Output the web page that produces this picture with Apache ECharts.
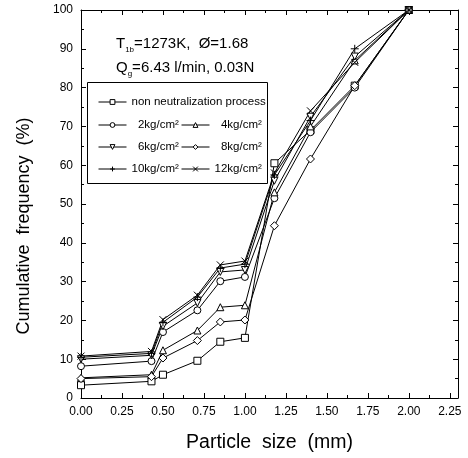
<!DOCTYPE html>
<html><head><meta charset="utf-8">
<script src="https://cdn.jsdelivr.net/npm/echarts@6/dist/echarts.min.js"></script>
<style>html,body{margin:0;padding:0;background:#fff}#c{width:468px;height:458px}</style>
</head><body><div id="c"></div>
<script>
const particleSize = [0, 0.43, 0.5, 0.71, 0.85, 1.0, 1.18, 1.4, 1.67, 2.0];
const nonNeutral = [3.3, 4.3, 6.0, 9.6, 14.5, 15.5, 60.5, 69.0, 80.5, 100];
const p2kg  = [8.2, 9.5, 17.0, 22.6, 30.1, 31.2, 51.5, 68.5, 80.0, 100];
const p4kg  = [5.2, 6.0, 12.3, 17.4, 23.4, 23.9, 53.0, 70.0, 87.0, 100];
const p6kg  = [10.0, 11.0, 18.5, 24.5, 32.5, 33.0, 56.0, 72.5, 88.0, 100];
const p8kg  = [5.0, 5.5, 10.3, 14.8, 19.6, 20.1, 44.4, 61.6, 80.5, 100];
const p10kg = [10.5, 11.5, 19.5, 26.0, 33.5, 34.5, 57.5, 71.5, 90.0, 100];
const p12kg = [10.8, 12.0, 20.2, 26.5, 34.3, 35.3, 58.0, 74.0, 86.5, 100];
const seriesNames = ['non neutralization process', '2kg/cm²', '4kg/cm²', '6kg/cm²', '8kg/cm²', '10kg/cm²', '12kg/cm²'];
const seriesValues = [nonNeutral, p2kg, p4kg, p6kg, p8kg, p10kg, p12kg];
const symbols = ['rect', 'circle', 'triangle', 'triangle', 'diamond',
  'path://M5,0L5,10M0,5L10,5', 'path://M0,0L10,10M0,10L10,0'];
const rotations = [0, 0, 0, 180, 0, 0, 0];
const sizes = [7, 7, 7, 7, 8, 8, 7];

const FONT = '"Liberation Sans", Arial, sans-serif';
const chart = echarts.init(document.getElementById('c'), null, {renderer: 'canvas'});

const series = seriesNames.map((name, i) => ({
  name: name,
  type: 'line',
  data: particleSize.map((x, j) => [x, seriesValues[i][j]]),
  symbol: symbols[i],
  symbolRotate: rotations[i],
  symbolSize: sizes[i],
  lineStyle: {color: '#000', width: 1},
  itemStyle: {color: '#fff', borderColor: '#000', borderWidth: 1},
  emphasis: {disabled: true},
  animation: false,
  xAxisIndex: 0, yAxisIndex: 0
}));

const tickCommon = {show: true, inside: true, length: 5, lineStyle: {color: '#000', width: 1}};
const minorCommon = {show: true, splitNumber: 2, length: 3, lineStyle: {color: '#000', width: 1}};

const legendText = {fontFamily: FONT, fontSize: 11.5, color: '#000'};
const legendFmt = n => (/^\d\D/.test(n) ? '  ' + n : n);
const legendBase = {
  orient: 'vertical', itemWidth: 28, itemHeight: 6, itemGap: 10,
  textStyle: legendText, selectedMode: false, formatter: legendFmt,
  itemStyle: {borderWidth: 1}, lineStyle: {width: 1}
};

chart.setOption({
  backgroundColor: '#fff',
  animation: false,
  grid: {left: 81, right: 10, top: 10, bottom: 58},
  xAxis: [{
    type: 'value', min: 0, max: 2.3, interval: 0.25, position: 'bottom',
    name: 'Particle  size  (mm)', nameLocation: 'middle', nameGap: 35,
    nameTextStyle: {fontFamily: FONT, fontSize: 19.5, color: '#000'},
    axisLine: {show: true, onZero: false, lineStyle: {color: '#000', width: 1}},
    axisTick: tickCommon, minorTick: minorCommon,
    axisLabel: {fontFamily: FONT, fontSize: 12, color: '#000', margin: 8, showMaxLabel: false,
      formatter: v => v.toFixed(2)},
    splitLine: {show: false}
  }, {
    type: 'value', min: 0, max: 2.3, interval: 0.25, position: 'top',
    axisLine: {show: true, onZero: false, lineStyle: {color: '#000', width: 1}},
    axisTick: tickCommon, minorTick: minorCommon,
    axisLabel: {show: false}, splitLine: {show: false}
  }],
  yAxis: [{
    type: 'value', min: 0, max: 100, interval: 10, position: 'left',
    name: 'Cumulative  frequency  (%)', nameLocation: 'middle', nameGap: 48, nameRotate: 90,
    nameTextStyle: {fontFamily: FONT, fontSize: 18, color: '#000', padding: [0, 44, 0, 0]},
    axisLine: {show: true, onZero: false, lineStyle: {color: '#000', width: 1}},
    axisTick: tickCommon, minorTick: minorCommon,
    axisLabel: {fontFamily: FONT, fontSize: 12, color: '#000', margin: 8},
    splitLine: {show: false}
  }, {
    type: 'value', min: 0, max: 100, interval: 10, position: 'right',
    axisLine: {show: true, onZero: false, lineStyle: {color: '#000', width: 1}},
    axisTick: tickCommon, minorTick: minorCommon,
    axisLabel: {show: false}, splitLine: {show: false}
  }],
  legend: [
    Object.assign({}, legendBase, {data: [seriesNames[0]], left: 93, top: 91}),
    Object.assign({}, legendBase, {data: [seriesNames[1], seriesNames[3], seriesNames[5]], left: 93, top: 114}),
    Object.assign({}, legendBase, {data: [seriesNames[2], seriesNames[4], seriesNames[6]], left: 176, top: 114})
  ],
  graphic: [{
    type: 'rect', left: 87, top: 82, z: 0,
    shape: {width: 180, height: 101},
    style: {fill: '#fff', stroke: '#000', lineWidth: 1}
  }, {
    type: 'text', left: 116, top: 36,
    style: {
      text: '{m|T}{s|1b}{m|=1273K,  Ø=1.68}',
      rich: {
        m: {fontFamily: FONT, fontSize: 15, fill: '#000', verticalAlign: 'bottom'},
        s: {fontFamily: FONT, fontSize: 8, fill: '#000', verticalAlign: 'bottom', padding: [0, 0, -3, 0]}
      }
    }
  }, {
    type: 'text', left: 116, top: 60,
    style: {
      text: '{m|Q}{s|g}{m|=6.43 l/min, 0.03N}',
      rich: {
        m: {fontFamily: FONT, fontSize: 15, fill: '#000', verticalAlign: 'bottom'},
        s: {fontFamily: FONT, fontSize: 8, fill: '#000', verticalAlign: 'bottom', padding: [0, 0, -3, 0]}
      }
    }
  }],
  series: series
});
</script></body></html>
